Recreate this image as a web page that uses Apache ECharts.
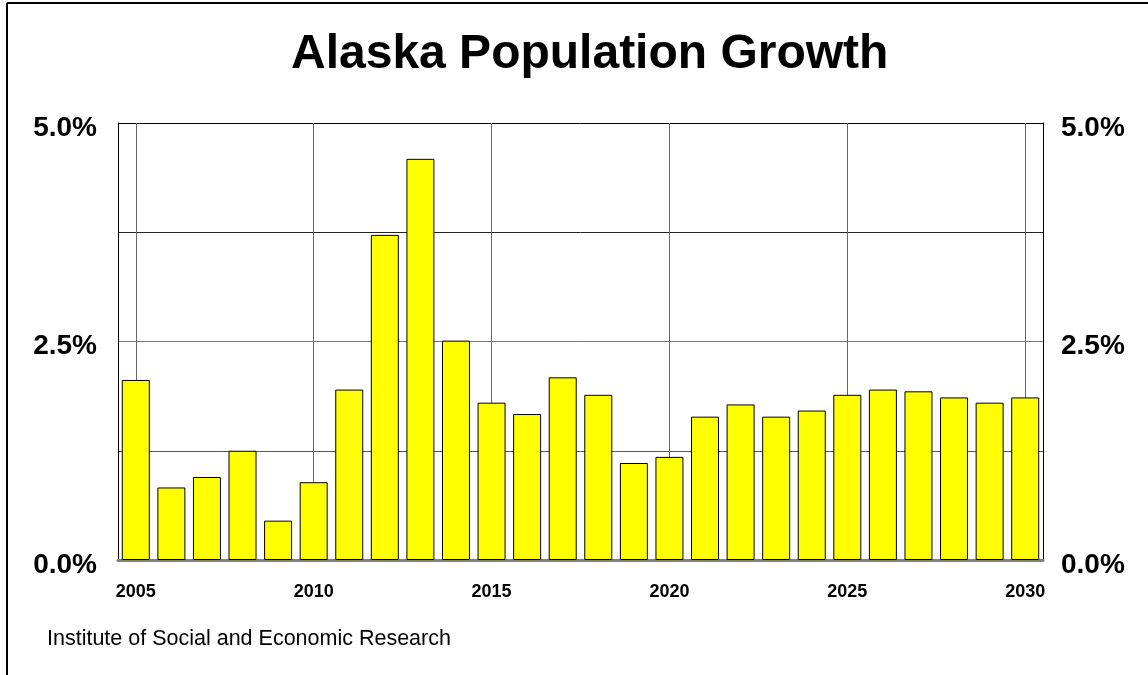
<!DOCTYPE html>
<html>
<head>
<meta charset="utf-8">
<script src="https://cdn.jsdelivr.net/npm/echarts@6/dist/echarts.min.js"></script>
<style>
  html, body { margin: 0; padding: 0; background: #fff; }
  #chart { width: 1148px; height: 675px; }
</style>
</head>
<body>
<div id="chart"></div>
<script>
// years along the bottom
var years = ['2005', '2006', '2007', '2008', '2009', '2010', '2011', '2012', '2013',
  '2014', '2015', '2016', '2017', '2018', '2019', '2020', '2021', '2022', '2023',
  '2024', '2025', '2026', '2027', '2028', '2029', '2030']
// annual growth, percent
var growth = [2.06, 0.83, 0.95, 1.25, 0.45, 0.89, 1.95, 3.72, 4.59, 2.51, 1.80, 1.67,
  2.09, 1.89, 1.11, 1.18, 1.64, 1.78, 1.64, 1.71, 1.89, 1.95, 1.93, 1.86, 1.80, 1.86]
var yLabels = ['0.0%', '2.5%', '5.0%']

var font = 'Liberation Sans, Arial, sans-serif'

function pctLabel (v) {
  var s = v.toFixed(1) + '%'
  return yLabels.indexOf(s) >= 0 ? '{p|' + s + '}' : ''
}

var yAxisBase = {
  type: 'value',
  min: 0,
  max: 5,
  interval: 1.25,
  axisLine: { show: true, lineStyle: { color: '#000', width: 1 } },
  axisTick: { show: false },
  axisLabel: {
    formatter: pctLabel,
    rich: {
      p: {
        fontFamily: font,
        fontSize: 28,
        fontWeight: 'bold',
        color: '#000',
        padding: [10, 0, 0, 0]
      }
    }
  }
}

var chart = echarts.init(document.getElementById('chart'))
chart.setOption({
  animation: false,
  title: {
    text: 'Alaska Population Growth',
    left: 286,
    top: 26,
    textStyle: { fontFamily: font, fontSize: 48, fontWeight: 'bold', color: '#000' }
  },
  grid: { left: 118, right: 105, top: 123, bottom: 115 },
  xAxis: {
    type: 'category',
    data: years,
    axisLine: { lineStyle: { color: '#808080', width: 3 } },
    axisTick: { show: false },
    axisLabel: {
      interval: 4,
      margin: 23,
      fontFamily: font,
      fontSize: 18,
      fontWeight: 'bold',
      color: '#000'
    },
    splitLine: {
      show: true,
      interval: 4,
      alignWithLabel: true,
      lineStyle: { color: '#666', width: 1 }
    }
  },
  yAxis: [
    Object.assign({}, yAxisBase, {
      position: 'left',
      axisLabel: Object.assign({}, yAxisBase.axisLabel, { margin: 21 }),
      splitLine: { show: true, lineStyle: { color: ['#555', '#555', '#777', '#222', '#000'], width: 1 } }
    }),
    Object.assign({}, yAxisBase, {
      position: 'right',
      axisLabel: Object.assign({}, yAxisBase.axisLabel, { margin: 18 }),
      splitLine: { show: false }
    })
  ],
  series: [{
    type: 'bar',
    data: growth,
    barWidth: 28,
    itemStyle: { color: '#ffff00', borderColor: '#000', borderWidth: 1 }
  }],
  graphic: [
    { type: 'line', shape: { x1: 7, y1: 3, x2: 1148, y2: 3 }, style: { stroke: '#000', lineWidth: 2 } },
    { type: 'line', shape: { x1: 7, y1: 3, x2: 7, y2: 675 }, style: { stroke: '#000', lineWidth: 2 } },
    {
      type: 'text',
      left: 47,
      top: 628,
      style: {
        text: 'Institute of Social and Economic Research',
        fontFamily: font,
        fontSize: 21.5,
        fill: '#000'
      }
    }
  ]
})
</script>
</body>
</html>
